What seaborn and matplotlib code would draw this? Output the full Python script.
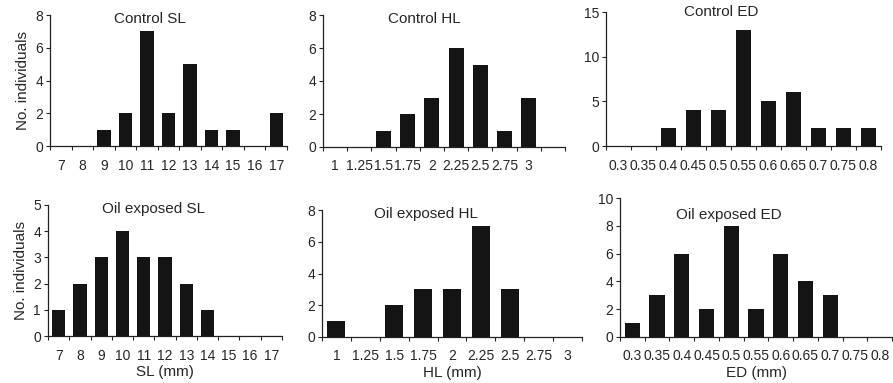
import numpy as np
import pandas as pd
import seaborn as sns
import matplotlib.pyplot as plt

# bins (tick labels)
sl_bins = ['7', '8', '9', '10', '11', '12', '13', '14', '15', '16', '17']
hl_bins_ctrl = ['1', '1.25', '1.5', '1.75', '2', '2.25', '2.5', '2.75', '3', '']
hl_bins_oil = ['1', '1.25', '1.5', '1.75', '2', '2.25', '2.5', '2.75', '3']
ed_bins = ['0.3', '0.35', '0.4', '0.45', '0.5', '0.55', '0.6', '0.65', '0.7', '0.75', '0.8']

# counts
control_sl = [0, 0, 1, 2, 7, 2, 5, 1, 1, 0, 2]
control_hl = [0, 0, 1, 2, 3, 6, 5, 1, 3, 0]
control_ed = [0, 0, 2, 4, 4, 13, 5, 6, 2, 2, 2]
oil_sl = [1, 2, 3, 4, 3, 3, 2, 1, 0, 0, 0]
oil_hl = [1, 0, 2, 3, 3, 7, 3, 0, 0]
oil_ed = [1, 3, 6, 2, 8, 2, 6, 4, 3, 0, 0]

sns.set_style('ticks')
plt.rcParams['font.family'] = ['Liberation Sans', 'DejaVu Sans']

fig = plt.figure(figsize=(8.93, 3.83), dpi=100)
W, H = 893, 383


def box(l, r, t, b):
    return [l / W, (H - b) / H, (r - l) / W, (b - t) / H]


panels = [
    (box(50, 287, 15, 146), sl_bins, control_sl, 'Control SL', 8, 2, None, True, (0.42, 0.97)),
    (box(323, 565, 15, 147), hl_bins_ctrl, control_hl, 'Control HL', 8, 2, None, False, (0.42, 0.97)),
    (box(606, 881, 12, 146), ed_bins, control_ed, 'Control ED', 15, 5, None, False, (0.42, 1.0)),
    (box(48, 282, 205, 336), sl_bins, oil_sl, 'Oil exposed SL', 5, 1, 'SL (mm)', True, (0.45, 0.97)),
    (box(322, 582, 210, 337), hl_bins_oil, oil_hl, 'Oil exposed HL', 8, 2, 'HL (mm)', False, (0.40, 0.97)),
    (box(620, 892, 198, 337), ed_bins, oil_ed, 'Oil exposed ED', 10, 2, 'ED (mm)', False, (0.40, 0.88)),
]

for rect, bins, counts, title, ymax, ystep, xlabel, ylab, tpos in panels:
    ax = fig.add_axes(rect)
    df = pd.DataFrame({'bin': [str(i) for i in range(len(bins))], 'n': counts})
    sns.barplot(data=df, x='bin', y='n', color='#141414', width=0.62,
                saturation=1, linewidth=0, ax=ax)
    n = len(bins)
    ax.set_xlim(-0.5, n - 0.5)
    ax.set_ylim(0, ymax)
    ax.set_yticks(np.arange(0, ymax + 0.1, ystep))
    ax.set_xticks(np.arange(n))
    ax.set_xticklabels(bins)
    ax.set_xticks(np.arange(n + 1) - 0.5, minor=True)
    ax.tick_params(axis='x', which='major', length=0, pad=9, labelsize=10)
    ax.tick_params(axis='x', which='minor', length=3, width=0.8, direction='out')
    ax.tick_params(axis='y', length=3, width=0.8, labelsize=10, pad=2)
    for s in ['top', 'right']:
        ax.spines[s].set_visible(False)
    for s in ['left', 'bottom']:
        ax.spines[s].set_linewidth(0.9)
        ax.spines[s].set_color('#222222')
    ax.set_xlabel(xlabel if xlabel else '', fontsize=11, labelpad=2)
    if ylab:
        ax.set_ylabel('No. individuals', fontsize=11, labelpad=4)
    else:
        ax.set_ylabel('')
    ax.text(tpos[0], tpos[1], title, transform=ax.transAxes, ha='center',
            va='center', fontsize=11)

fig.savefig('out.png', dpi=100)
